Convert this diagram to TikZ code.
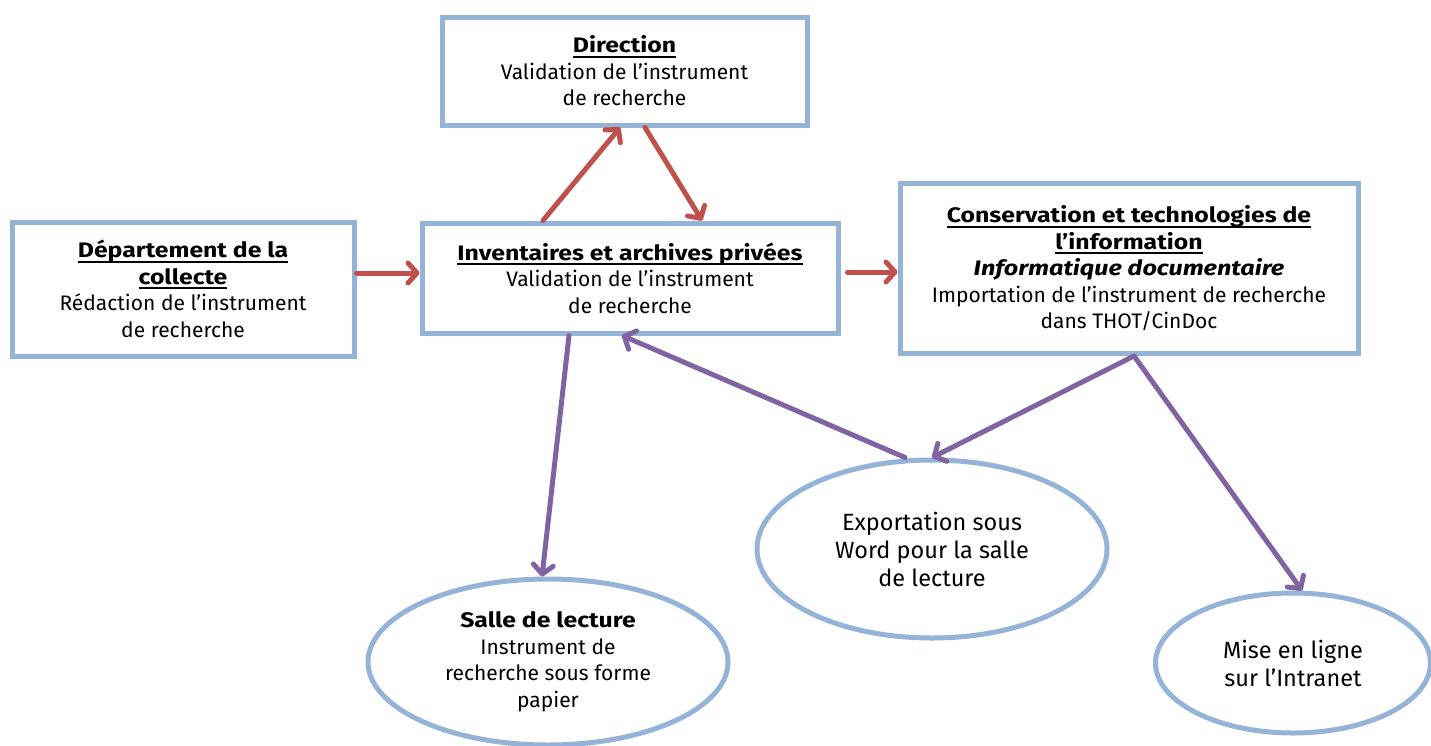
\documentclass[tikz,border=0pt]{standalone}
\usepackage{fontspec}
\setmainfont{Fira Sans}[BoldFeatures={FakeStretch=1.18},BoldItalicFeatures={FakeStretch=1.2}]
\usetikzlibrary{shapes.geometric,arrows.meta}
\definecolor{boxblue}{HTML}{95B3D7}
\definecolor{arrred}{HTML}{C0504D}
\definecolor{arrpurple}{HTML}{8064A2}
\newcommand{\ttl}[1]{\textbf{\setbox0\hbox{#1}\rlap{\rule[-5pt]{\wd0}{2pt}}\box0}}
\begin{document}
\begin{tikzpicture}[x=1pt,y=-1pt,
  box/.style={draw=boxblue, line width=5pt, rectangle, align=center, inner sep=0pt,
    font=\fontsize{21}{26.5}\selectfont, fill=white},
  oval/.style={draw=boxblue, line width=5pt, ellipse, align=center, inner sep=0pt,
    font=\fontsize{21}{26.5}\selectfont, fill=white},
  bigoval/.style={oval, font=\fontsize{23.5}{28}\selectfont},
  redarr/.style={draw=arrred, line width=5pt, line cap=round, line join=round,
    -{Straight Barb[length=9pt,width=20pt,round]}},
  purparr/.style={draw=arrpurple, line width=5pt, line cap=round, line join=round,
    -{Straight Barb[length=9pt,width=20pt,round]}}]
\useasboundingbox (0,0) rectangle (1431,745);

\node[box, minimum width=365pt, minimum height=108pt] (dir) at (624.5,71)
  {\ttl{Direction}\\ Validation de l’instrument\\ de recherche};
\node[box, minimum width=342pt, minimum height=134pt] (dep) at (183,289)
  {\ttl{Département de la}\\ \ttl{collecte}\\ Rédaction de l’instrument\\ de recherche};
\node[box, minimum width=416pt, minimum height=110pt] (inv) at (630,278)
  {\ttl{Inventaires et archives privées}\\ Validation de l’instrument\\ de recherche};
\node[box, minimum width=458pt, minimum height=170pt] (con) at (1129,268.5)
  {\ttl{Conservation et technologies de}\\ \ttl{l’information}\\ \textbf{\textit{Informatique documentaire}}\\ Importation de l’instrument de recherche\\ dans THOT/CinDoc};

\node[oval, minimum width=360pt, minimum height=166pt] (salle) at (548,662)
  {\textbf{Salle de lecture}\\ Instrument de\\ recherche sous forme\\ papier};
\node[bigoval, minimum width=350pt, minimum height=178pt] (exp) at (932,549)
  {Exportation sous\\ Word pour la salle\\ de lecture};
\node[bigoval, minimum width=275pt, minimum height=140pt] (mise) at (1293,663)
  {Mise en ligne\\ sur l’Intranet};

\draw[redarr] ([yshift=16pt]dep.east) -- ([yshift=5pt]inv.west);
\draw[redarr] ([xshift=-87pt]inv.north) -- ([xshift=-4.5pt]dir.south);
\draw[redarr] ([xshift=20.5pt]dir.south) -- ([xshift=72pt]inv.north);
\draw[redarr, shorten <=7pt] ([yshift=6pt]inv.east) -- ([yshift=-3.5pt]con.west);

\draw[purparr] ([xshift=-61pt]inv.south) -- ([xshift=-6pt]salle.north);
\draw[purparr] ([xshift=-27pt]exp.north) -- ([xshift=-8pt]inv.south);
\draw[purparr] ([xshift=5pt]con.south) -- (exp.north);
\draw[purparr] ([xshift=5pt]con.south) -- ([xshift=9pt]mise.north);
\end{tikzpicture}
\end{document}
